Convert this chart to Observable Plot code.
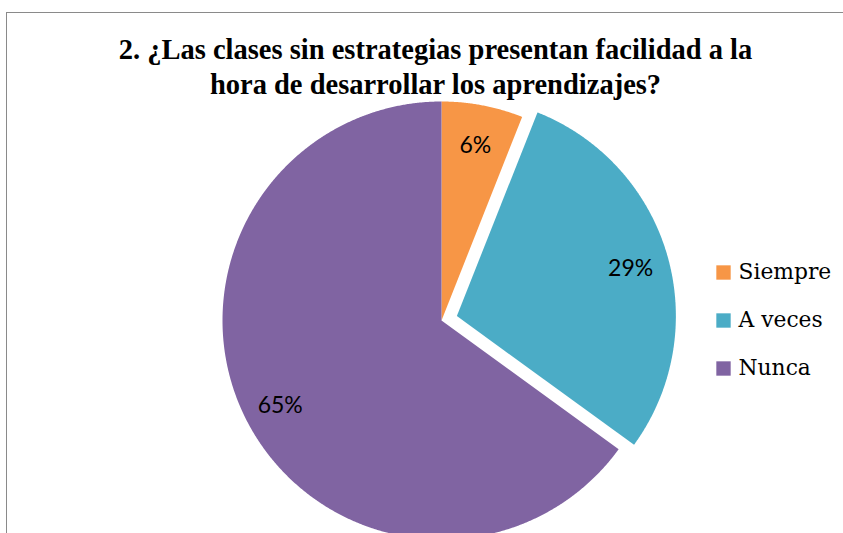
<!DOCTYPE html>
<html>
<head>
<meta charset="utf-8">
<script src="https://cdn.jsdelivr.net/npm/d3@7"></script>
<script src="https://cdn.jsdelivr.net/npm/@observablehq/plot@0.6"></script>
<style>
  html, body { margin: 0; padding: 0; background: #fff; width: 843px; height: 533px; overflow: hidden; }
  #wrap { position: relative; width: 843px; height: 533px; }
  .bt { position: absolute; left: 6px; top: 12px; width: 837px; height: 1px; background: #8a8a8a; }
  .bl { position: absolute; left: 6px; top: 12px; width: 1px; height: 521px; background: #8a8a8a; }
  #title { height: 100px; box-sizing: border-box; padding-top: 32px; text-align: center;
           font-family: "Liberation Serif", serif; font-weight: bold; font-size: 28.5px; line-height: 35px;
           color: #000; padding-left: 28px; white-space: nowrap; }
</style>
</head>
<body>
<div id="wrap">
  <div class="bt"></div>
  <div class="bl"></div>
  <div id="title">2. ¿Las clases sin estrategias presentan facilidad a la<br>hora de desarrollar los aprendizajes?</div>
  <div id="chart"></div>
</div>
<script>
const categories = ["Siempre", "A veces", "Nunca"];
const values = [6, 29, 65];
const colors = ["#F79646", "#4BACC6", "#8064A2"];
const explode = [0, 1, 0];

const W = 843, H = 433;
const cx = 441, cy = 220, R = 219, off = 16, labelR = 181;

const arcs = d3.pie().sort(null).value(d => d)(values);
const pts = [];
const labels = [];
arcs.forEach((a, i) => {
  const mid = (a.startAngle + a.endAngle) / 2;
  const ox = explode[i] ? off * Math.sin(mid) : 0;
  const oy = explode[i] ? -off * Math.cos(mid) : 0;
  const px = cx + ox, py = cy + oy;
  pts.push({cat: categories[i], x: px, y: py});
  const n = Math.max(4, Math.ceil((a.endAngle - a.startAngle) / 0.005));
  for (let k = 0; k <= n; k++) {
    const t = a.startAngle + (a.endAngle - a.startAngle) * k / n;
    pts.push({cat: categories[i], x: px + R * Math.sin(t), y: py - R * Math.cos(t)});
  }
  pts.push({cat: categories[i], x: px, y: py});
  labels.push({text: values[i] + "%", x: px + labelR * Math.sin(mid), y: py - labelR * Math.cos(mid) + 3});
});

const legX = 723, legText = 738, legY0 = 172, legDy = 48;
const legend = categories.map((c, i) => ({cat: c, x: legX, y: legY0 + i * legDy}));

const chart = Plot.plot({
  width: W, height: H,
  margin: 0,
  x: {domain: [0, W], range: [0, W], axis: null},
  y: {domain: [0, H], range: [0, H], axis: null},
  color: {domain: categories, range: colors},
  style: {background: "transparent"},
  marks: [
    Plot.line(pts, {x: "x", y: "y", z: "cat", fill: "cat", stroke: null, curve: "linear"}),
    Plot.text(labels, {x: "x", y: "y", text: "text", fontFamily: "Lato, 'Liberation Sans', sans-serif", fontSize: 23, fill: "#000"}),
    Plot.dot(legend, {x: "x", y: "y", fill: "cat", symbol: "square", r: 8.1, stroke: null}),
    Plot.text(legend, {x: () => legText, y: "y", text: "cat", textAnchor: "start", fontFamily: "'DejaVu Serif', serif", fontSize: 21.8, fill: "#000"})
  ]
});
document.getElementById("chart").appendChild(chart);
</script>
</body>
</html>
